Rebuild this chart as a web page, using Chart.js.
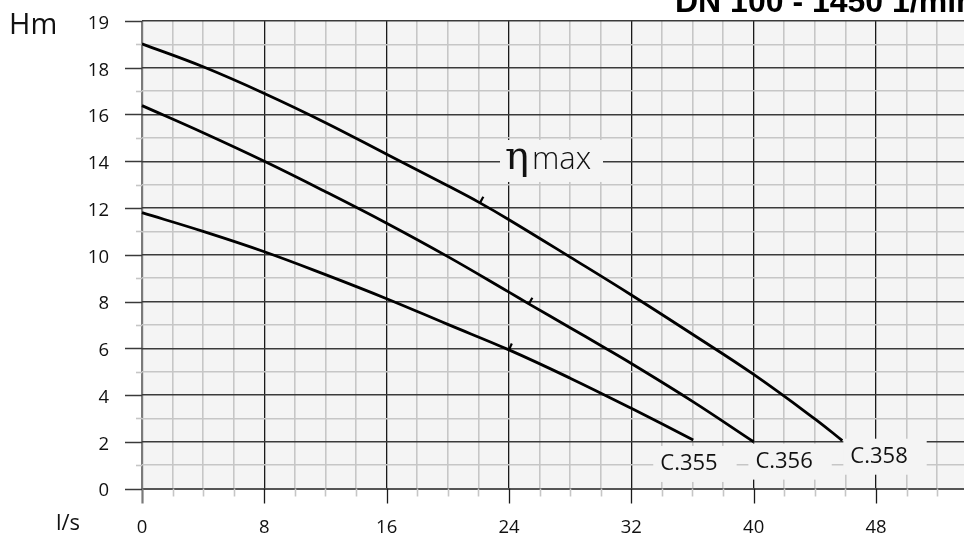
<!DOCTYPE html>
<html><head><meta charset="utf-8">
<script src="https://cdn.jsdelivr.net/npm/chart.js@4.4.0/dist/chart.umd.min.js"></script>
<style>
html,body{margin:0;padding:0;background:#fff;overflow:hidden;width:964px;height:533px}
#wrap{position:absolute;left:0;top:0;width:1000px;height:533px}
</style></head><body>
<div id="wrap"><canvas id="c" width="1000" height="533"></canvas></div>
<script>
// ---- data ----
const flowC358 = [0, 4, 8, 12, 16, 20, 22.1, 24, 28, 32, 36, 40, 44, 45.8];
const headC358 = [19.02, 18.04, 16.9, 15.65, 14.3, 12.95, 12.22, 11.5, 9.9, 8.28, 6.6, 4.88, 2.98, 2.05];
const flowC356 = [0, 4, 8, 12, 16, 20, 24, 25.3, 28, 30, 32, 36, 40];
const headC356 = [16.38, 15.22, 14.0, 12.7, 11.35, 9.92, 8.4, 7.9, 6.88, 6.12, 5.35, 3.73, 2.0];
const flowC355 = [0, 4, 8, 12, 16, 20, 24, 28, 32, 36.05];
const headC355 = [11.8, 11.0, 10.13, 9.15, 8.12, 7.02, 5.93, 4.72, 3.43, 2.08];
const seriesNames = ['C.355', 'C.356', 'C.358'];
const etaFlow = [24, 25.3, 22.1];            // best-efficiency mark per series
const xTickValues = [0, 8, 16, 24, 32, 40, 48];
const xTickLabels = ['0', '8', '16', '24', '32', '40', '48'];
const yTickValues = [0, 2, 4, 6, 8, 10, 12, 14, 16, 18, 20];
const yTickLabels = ['0', '2', '4', '6', '8', '10', '12', '14', '16', '18', '19'];
const titleText = 'DN 100 - 1450 1/min';

// ---- layout / style (not data) ----
const seriesLabelPos = [{x: 35.77, y: 1.05}, {x: 41.99, y: 1.15}, {x: 48.2, y: 1.36}];
const etaLabelPos = {x: 23.74, y: 13.67};
const PLOT_BG = '#f4f4f4';
const MINOR = '#c6c6c6';
const CLEAR = 'rgba(0,0,0,0)';

const toPts = (xs, ys) => xs.map((x, i) => ({x, y: ys[i]}));
const datasets = [
  {label: seriesNames[0], data: toPts(flowC355, headC355)},
  {label: seriesNames[1], data: toPts(flowC356, headC356)},
  {label: seriesNames[2], data: toPts(flowC358, headC358)}
].map(d => Object.assign(d, {borderColor: '#000', borderWidth: 2.8, pointRadius: 0,
  tension: 0.4, fill: false, clip: false}));

const deco = {
  id: 'deco',
  beforeDraw(chart) {
    const {ctx, chartArea: a} = chart;
    ctx.save();
    ctx.fillStyle = PLOT_BG;
    ctx.fillRect(a.left, a.top, a.right - a.left, a.bottom - a.top);
    ctx.restore();
  },
  beforeDatasetsDraw(chart) {
    const {ctx, chartArea: a, scales: {x, y}} = chart;
    ctx.save();
    // outer tick marks
    x.ticks.forEach(t => {
      const v = t.value; if (v > 54) return;
      const px = Math.round(x.getPixelForValue(v)) + 0.5;
      const major = v % 8 === 0;
      ctx.beginPath();
      ctx.strokeStyle = v === 0 ? '#7a7a7a' : (major ? '#1a1a1a' : MINOR);
      ctx.lineWidth = v === 0 ? 2.2 : (major ? 1.3 : 1.6);
      ctx.moveTo(px, a.bottom); ctx.lineTo(px, a.bottom + (major ? 15 : 8));
      ctx.stroke();
    });
    y.ticks.forEach(t => {
      const v = t.value;
      const py = Math.round(y.getPixelForValue(v)) + 0.5;
      const major = v % 2 === 0;
      ctx.beginPath();
      ctx.strokeStyle = major ? '#3a3a3a' : MINOR;
      ctx.lineWidth = major ? 1.5 : 1.6;
      ctx.moveTo(a.left - (major ? 17 : 6), py); ctx.lineTo(a.left, py);
      ctx.stroke();
    });
    // curve labels with plot-coloured backing
    ctx.font = '22px "Open Sans"';
    ctx.textBaseline = 'middle';
    ctx.textAlign = 'left';
    seriesNames.forEach((name, i) => {
      const cx = x.getPixelForValue(seriesLabelPos[i].x);
      const cy = y.getPixelForValue(seriesLabelPos[i].y);
      const w = ctx.measureText(name).width;
      const lx = cx - w / 2;
      ctx.fillStyle = PLOT_BG;
      ctx.fillRect(lx - 7, cy - 18, w + 26, 36);
      ctx.fillStyle = '#111';
      ctx.fillText(name, lx, cy);
    });
    // eta max label
    const ex = x.getPixelForValue(etaLabelPos.x);
    const ey = y.getPixelForValue(etaLabelPos.y);
    ctx.fillStyle = PLOT_BG;
    ctx.fillRect(ex - 5, ey - 29, 103, 42);
    ctx.fillStyle = '#111';
    ctx.textBaseline = 'alphabetic';
    ctx.font = '40px "DejaVu Serif"';
    ctx.fillText('\u03B7', ex, ey);
    const ew = ctx.measureText('\u03B7').width;
    ctx.font = '300 31px "Open Sans"';
    ctx.fillText('max', ex + ew + 3, ey);
    ctx.restore();
  },
  afterDatasetsDraw(chart) {
    const {ctx} = chart;
    ctx.save();
    ctx.strokeStyle = '#000';
    ctx.lineWidth = 2.2;
    chart.data.datasets.forEach((ds, i) => {
      const meta = chart.getDatasetMeta(i);
      const idx = ds.data.findIndex(p => p.x === etaFlow[i]);
      if (idx < 0) return;
      const p = meta.data[idx], p0 = meta.data[idx - 1], p1 = meta.data[idx + 1];
      const dx = p1.x - p0.x, dy = p1.y - p0.y;
      const len = Math.hypot(dx, dy);
      const nx = dy / len, ny = -dx / len;  // perpendicular, pointing up-right
      ctx.beginPath();
      ctx.moveTo(p.x, p.y);
      ctx.lineTo(p.x + nx * 7, p.y + ny * 7);
      ctx.stroke();
    });
    ctx.restore();
  },
  afterDraw(chart) {
    const {ctx} = chart;
    ctx.save();
    ctx.fillStyle = '#111';
    ctx.textBaseline = 'alphabetic';
    ctx.textAlign = 'left';
    ctx.font = '29px "Open Sans"';
    ctx.fillText('Hm', 9, 34);
    ctx.font = '22px "Open Sans"';
    ctx.fillText('l/s', 56, 530);
    ctx.fillStyle = '#000';
    ctx.font = 'bold 32px "Liberation Sans"';
    ctx.fillText(titleText, 675, 12);
    ctx.restore();
  }
};

new Chart(document.getElementById('c'), {
  type: 'line',
  data: {datasets},
  plugins: [deco],
  options: {
    responsive: false, animation: false, devicePixelRatio: 1,
    layout: {padding: {top: 21, right: 17, left: 0, bottom: 0}},
    plugins: {legend: {display: false}, tooltip: {enabled: false}},
    scales: {
      x: {
        type: 'linear', min: 0, max: 55,
        afterFit(s) { s.height = 44.5; },
        border: {display: false},
        grid: {
          drawTicks: true, tickLength: 28, tickColor: CLEAR,
          color: c => c.tick.value === 0 ? '#7a7a7a' : (c.tick.value % 8 === 0 ? '#1a1a1a' : MINOR),
          lineWidth: c => c.tick.value === 0 ? 2.2 : (c.tick.value % 8 === 0 ? 1.3 : 1.6)
        },
        ticks: {
          stepSize: 2, autoSkip: false, maxRotation: 0, padding: 0, color: '#111',
          font: {family: 'Open Sans', size: 18.5},
          callback: v => { const i = xTickValues.indexOf(v); return i >= 0 ? xTickLabels[i] : ''; }
        }
      },
      y: {
        min: 0, max: 20,
        afterFit(s) { s.width = 142; },
        border: {display: false},
        grid: {
          drawTicks: true, tickLength: 33, tickColor: CLEAR,
          color: c => c.tick.value === 0 ? '#555' : (c.tick.value % 2 === 0 ? '#3a3a3a' : MINOR),
          lineWidth: c => c.tick.value === 0 ? 2 : (c.tick.value % 2 === 0 ? 1.5 : 1.6)
        },
        ticks: {
          stepSize: 1, autoSkip: false, padding: 0, labelOffset: 2.5, color: '#111',
          font: {family: 'Open Sans', size: 18.5},
          callback: v => { const i = yTickValues.indexOf(v); return i >= 0 ? yTickLabels[i] : ''; }
        }
      }
    }
  }
});
</script>
</body></html>
